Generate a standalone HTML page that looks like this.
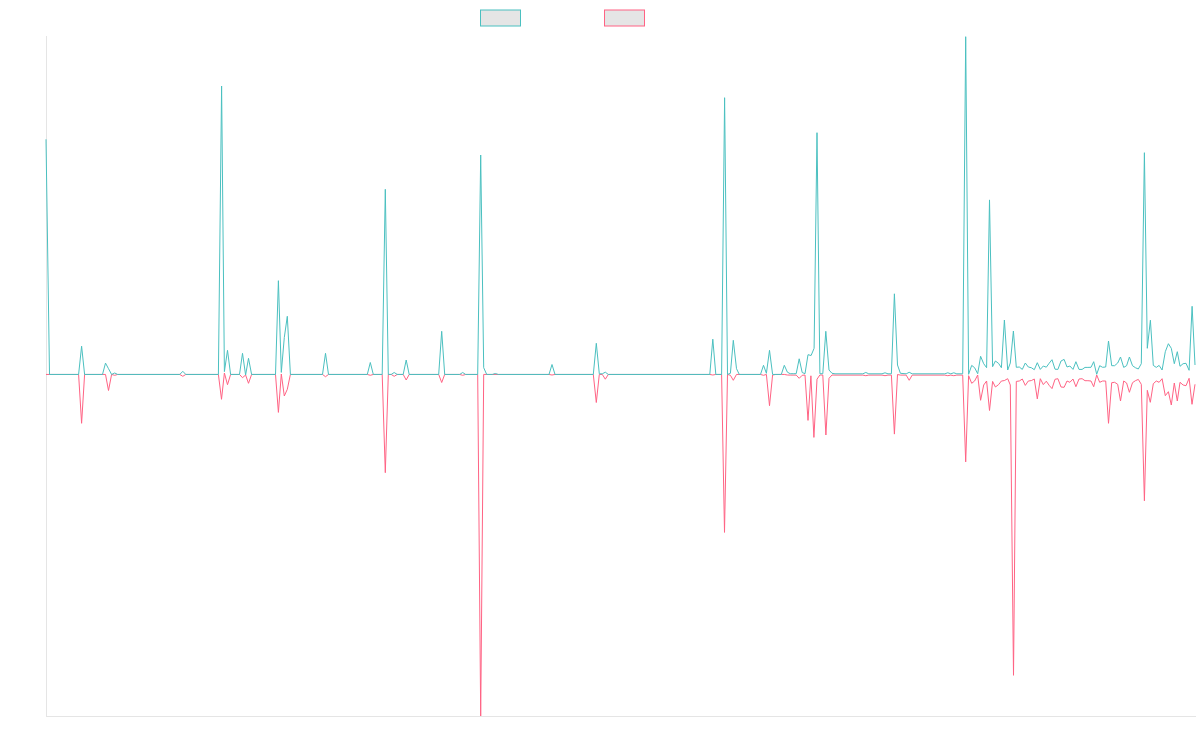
<!DOCTYPE html>
<html lang="en"><head><meta charset="utf-8"><title>Chart</title>
<style>
html,body{margin:0;padding:0;background:#fff;}
body{width:1200px;height:750px;overflow:hidden;font-family:"Liberation Sans",sans-serif;}
svg{display:block;}
</style></head><body>
<svg width="1200" height="750" viewBox="0 0 1200 750">
<rect width="1200" height="750" fill="#fff"/>
<!-- legend -->
<rect x="480.5" y="10" width="40" height="16" fill="#e5e5e5" stroke="rgb(75,192,192)" stroke-width="1"/>
<rect x="604.5" y="10" width="40" height="16" fill="#e5e5e5" stroke="rgb(255,99,132)" stroke-width="1"/>
<!-- axes -->
<line x1="46.5" y1="36" x2="46.5" y2="717" stroke="#e5e5e5" stroke-width="1"/>
<line x1="46" y1="716.5" x2="1196" y2="716.5" stroke="#e5e5e5" stroke-width="1"/>
<clipPath id="c"><rect x="45" y="36" width="1151.5" height="681"/></clipPath>
<g clip-path="url(#c)" fill="none" stroke-width="1" stroke-linejoin="miter" stroke-miterlimit="10">
<polyline stroke="rgb(255,99,132)" points="46,374.45 78.6,374.45 81.6,423.3 84.6,374.45 105.5,374.45 108.5,390.5 111.6,374.45 114.7,375.3 117.7,374.45 179.8,374.45 182.8,376.3 185.8,374.45 218.4,374.45 221.5,399.3 224.4,373 227.5,384.7 230.6,374.45 239.5,374.45 242.5,377.7 245.6,375 248.5,383.3 251.6,374.45 275.5,374.45 278.4,412.4 281.3,374 284.3,396 287.3,389.3 290.4,374.45 322.5,374.45 325.5,376.7 328.5,374.45 367.3,374.45 370.3,375.3 373.3,374.45 382.2,374.45 385.3,472.7 388.3,374.45 391.2,374.45 394.2,376.3 397.2,374.45 403.2,374.45 406.2,380 409.2,374.45 438.7,374.45 441.7,382.5 444.7,374.45 459.7,374.45 462.7,375.3 465.7,374.45 477.7,374.45 480.7,716 483.7,374.45 549,374.45 552,375 555,374.45 593.3,374.45 596.3,402.5 599.3,374.45 602.3,374.45 605.3,379.2 608.3,374.45 709.8,374.45 712.8,375 715.8,374.45 721.6,374.45 724.5,532.4 727.5,374.45 730.4,375.3 733.3,380.3 736.5,374.45 760.5,374.45 763.5,375.3 766.4,374.45 769.5,405.7 772.6,375 775.6,374.45 781.3,374.45 784.3,374.45 787.4,375 790.2,375.1 796.2,375.1 799.2,378.3 802.2,375.3 805,375 808,420.4 810.9,375.8 813.9,437.4 817,379.2 819.9,375 822.8,375 825.9,435 829,378.3 832,375 835,375.1 862.8,375.1 865.8,375.7 868.8,375.1 882,375.1 885,375.7 888,375.1 891.4,375.1 894.4,434.1 897.5,374.5 900.4,375.1 906.2,375.1 909.2,380.3 912.2,375.1 944.8,375.1 947.8,375.7 950.8,375.1 953.8,375.7 956.8,375.1 962.7,375.1 965.7,461.9 968.6,375.7 971.7,383.3 974.6,381 977.7,375 980.6,400.3 983.7,385 986.6,381 989.5,410.5 992.6,381.4 995.4,387 998.6,384.6 1001.4,381 1004.3,380.6 1007.7,378.7 1010.3,385 1013.5,675.3 1016.3,381.4 1019.3,381 1022.3,379 1025.3,385.4 1028.3,381 1031.3,380.6 1034.3,379 1037.3,398.9 1040.3,378.7 1043.3,384.6 1046.3,381.2 1049.2,385.4 1052,388.6 1055,379.3 1057.9,378.7 1061,387 1064.1,387.3 1067,381 1069.9,382.3 1073,379 1075.9,386.7 1079,379 1082.1,378.7 1085,380.7 1087.9,380.7 1091,381 1093.7,386.7 1096.7,375 1099.7,382.3 1102.6,381 1105.7,381 1108.5,423.3 1111.7,382.7 1114.6,382.3 1117.7,384.3 1120.5,401 1123.7,381 1126.6,383 1129.4,392.3 1132.5,382.7 1135.4,380.7 1138.3,379.4 1141.3,384.3 1144.4,500.8 1147.3,390.3 1150.3,402.3 1153.3,383.7 1156.3,381 1159.1,382.3 1162.1,378.7 1165.3,395.7 1168.4,391.7 1171.3,405 1174.3,383 1177.3,401 1180,382.3 1183.1,385 1186,385.7 1189.1,378.3 1192,404.3 1195,384.3"/>
<polyline stroke="rgb(75,192,192)" points="46,139.3 49.5,374.45 78.6,374.45 81.6,346.2 84.6,374.45 102.5,374.45 105.5,363.1 108.5,368.7 111.6,374.45 114.7,373 117.7,374.45 179.8,374.45 182.8,371.3 185.8,374.45 218.4,374.45 221.6,86 224.4,371.6 227.5,350.3 230.6,374.45 239.5,374.45 242.5,353.3 245.6,375 248.5,358.3 251.6,374.45 275.5,374.45 278.4,280.7 281.3,372.4 284.3,337.5 287.3,316.3 290.4,374.45 322.5,374.45 325.5,353.3 328.5,374.45 367.3,374.45 370.3,362.5 373.3,374.45 382.2,374.45 385.3,189.3 388.3,374.45 391.2,374.45 394.2,372.5 397.2,374.45 403.2,374.45 406.2,360 409.2,374.45 438.7,374.45 441.7,331.3 444.7,374.45 459.7,374.45 462.7,372.5 465.7,374.45 477.7,374.45 480.7,155 483.7,367.7 486.7,374.45 492.3,374.45 495.3,373.5 498.3,374.45 549,374.45 552,364.5 555,374.45 593.3,374.45 596.3,343.3 599.3,373.8 602.3,373.8 605.3,372.2 608.3,374.45 709.8,374.45 712.8,339.2 715.8,374.45 721.6,374.45 724.6,97.7 727.5,374.45 730.4,373.3 733.3,340.3 736.5,368.7 739.3,374.45 760.5,374.45 763.5,365.3 766.4,373.3 769.5,350.3 772.6,374.45 781.3,374.45 784.3,365.3 787.4,372.2 790.2,373.7 793.2,373.7 796.2,373.7 799.2,358.8 802.2,372.5 805,373.7 808,354.7 811.1,355.5 814.1,348.3 817,132.7 819.9,373.7 822.8,373.7 825.8,331.3 829,370 832,373.3 835,373.8 862.8,373.8 865.8,372.5 868.8,373.8 882,373.8 885,372.8 888,373.8 891.4,373.8 894.4,293.8 897.5,365 900.4,373.3 906.2,373.8 909.2,372.3 912.2,373.8 944.8,373.8 947.8,372.8 950.8,373.8 953.8,372.8 956.8,373.8 962.7,373.8 965.7,36.7 968.6,374.3 971.7,365.4 974.6,367.7 977.7,373.7 980.6,356.3 983.7,363.7 986.6,367.7 989.5,199.9 992.6,366.7 995.4,361 998.6,363.4 1001.4,367.7 1004.4,320 1007.7,370 1010.3,363 1013.4,331 1016.3,367.3 1019.3,367 1022.3,369.4 1025.3,363 1028.3,367 1031.3,367.7 1034.3,369.7 1037.3,362.7 1040.3,369.4 1043.3,366 1046.3,367.2 1049.2,363.2 1052,359.7 1055,369.2 1057.9,369.4 1061,361 1064.1,359.4 1067,367 1069.9,366 1073,369.4 1075.9,361.7 1079,369.4 1082.1,369.4 1085,367.4 1087.9,367.4 1091,367.3 1093.7,361.7 1096.7,374.3 1099.7,365.7 1102.6,367.3 1105.7,367 1108.5,341 1111.7,365.7 1114.6,365.7 1117.7,363 1120.5,357 1123.7,367.4 1126.6,365.7 1129.4,357 1132.5,365.7 1135.4,367.7 1138.3,369 1141.3,363.7 1144.4,152.7 1147.3,348.3 1150.4,320.2 1153.3,365.4 1156.3,367.4 1159.1,365.4 1162.1,370 1165.3,351.7 1168.4,343.7 1171.3,348.3 1174.3,363.7 1177.3,351.7 1180,366.3 1183.1,363.7 1186,363.3 1189.1,370.3 1192.1,306.3 1195,365"/>
</g>
</svg>
</body></html>
